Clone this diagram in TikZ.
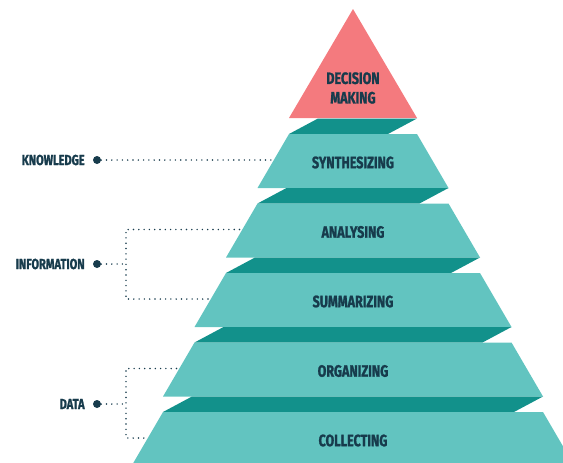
\documentclass[tikz,border=0pt]{standalone}
\usepackage{fontspec}
\newfontfamily\pyrfont[FakeStretch=0.76,FakeBold=1.3]{Fira Sans}
\usetikzlibrary{positioning}

\definecolor{facecol}{RGB}{98,196,192}
\definecolor{topcol}{RGB}{18,145,139}
\definecolor{apexcol}{RGB}{244,122,126}
\definecolor{navy}{RGB}{23,59,76}

\tikzset{
  face/.style={fill=facecol},
  topface/.style={fill=topcol},
  lvl/.style={font=\pyrfont\bfseries\fontsize{16.5}{19.5}\selectfont, text=navy, align=center, inner sep=0pt},
  grp/.style={font=\pyrfont\bfseries\fontsize{14.5}{17}\selectfont, text=navy, inner sep=0pt},
  bullet/.style={circle, fill=navy, minimum size=8pt, inner sep=0pt},
  leader/.style={draw=navy, line width=1.6pt, line cap=round, dash pattern=on 0pt off 5.3pt}
}

% one slab of the pyramid: #1 name, #2 index from the top, #3 text
\newcommand{\pyrlevel}[3]{%
  \pgfmathsetmacro{\yt}{134+69.5*#2}
  \pgfmathsetmacro{\wt}{64+31.5*#2}
  \fill[topface] (353-\wt+29,\yt-15.5) -- (353+\wt,\yt-15.5) -- (353+\wt-29,\yt) -- (353-\wt,\yt) -- cycle;
  \fill[face] (353-\wt,\yt) -- (353+\wt,\yt) -- (353+\wt+31.5,\yt+54) -- (353-\wt-31.5,\yt+54) -- cycle;
  \node[lvl] (#1) at (353,\yt+28.5) {#3};
  \coordinate (#1-w) at (353-\wt-18,\yt+26);
}

\begin{document}
\begin{tikzpicture}[x={(1pt,0pt)},y={(0pt,-1pt)}]
  \clip (0,0) rectangle (563,463);

  % apex
  \fill[apexcol] (353,9) -- (417,118) -- (289,118) -- cycle;
  \node[lvl] (decision) at (353,88) {DECISION\\MAKING};

  % slabs
  \pyrlevel{synth}{0}{SYNTHESIZING}
  \pyrlevel{analys}{1}{ANALYSING}
  \pyrlevel{summ}{2}{SUMMARIZING}
  \pyrlevel{organ}{3}{ORGANIZING}
  \pyrlevel{collect}{4}{COLLECTING}

  % groups on the left
  \node[bullet] (kdot) at (97,160) {};
  \node[grp, left=8pt of kdot] (knowledge) {KNOWLEDGE};
  \node[bullet] (idot) at (97,264) {};
  \node[grp, left=8pt of idot] (information) {INFORMATION};
  \node[bullet] (ddot) at (97,404) {};
  \node[grp, left=8pt of ddot] (data) {DATA};
  \coordinate (ibr) at (126,264);
  \coordinate (dbr) at (126,404);

  \draw[leader] (kdot) -- (synth-w);
  \draw[leader] (idot) -- (ibr);
  \draw[leader] (analys-w) -- (analys-w -| ibr) -- (summ-w -| ibr) -- (summ-w);
  \draw[leader] (ddot) -- (dbr);
  \draw[leader] (organ-w) -- (organ-w -| dbr) -- (collect-w -| dbr) -- (collect-w);
\end{tikzpicture}
\end{document}
